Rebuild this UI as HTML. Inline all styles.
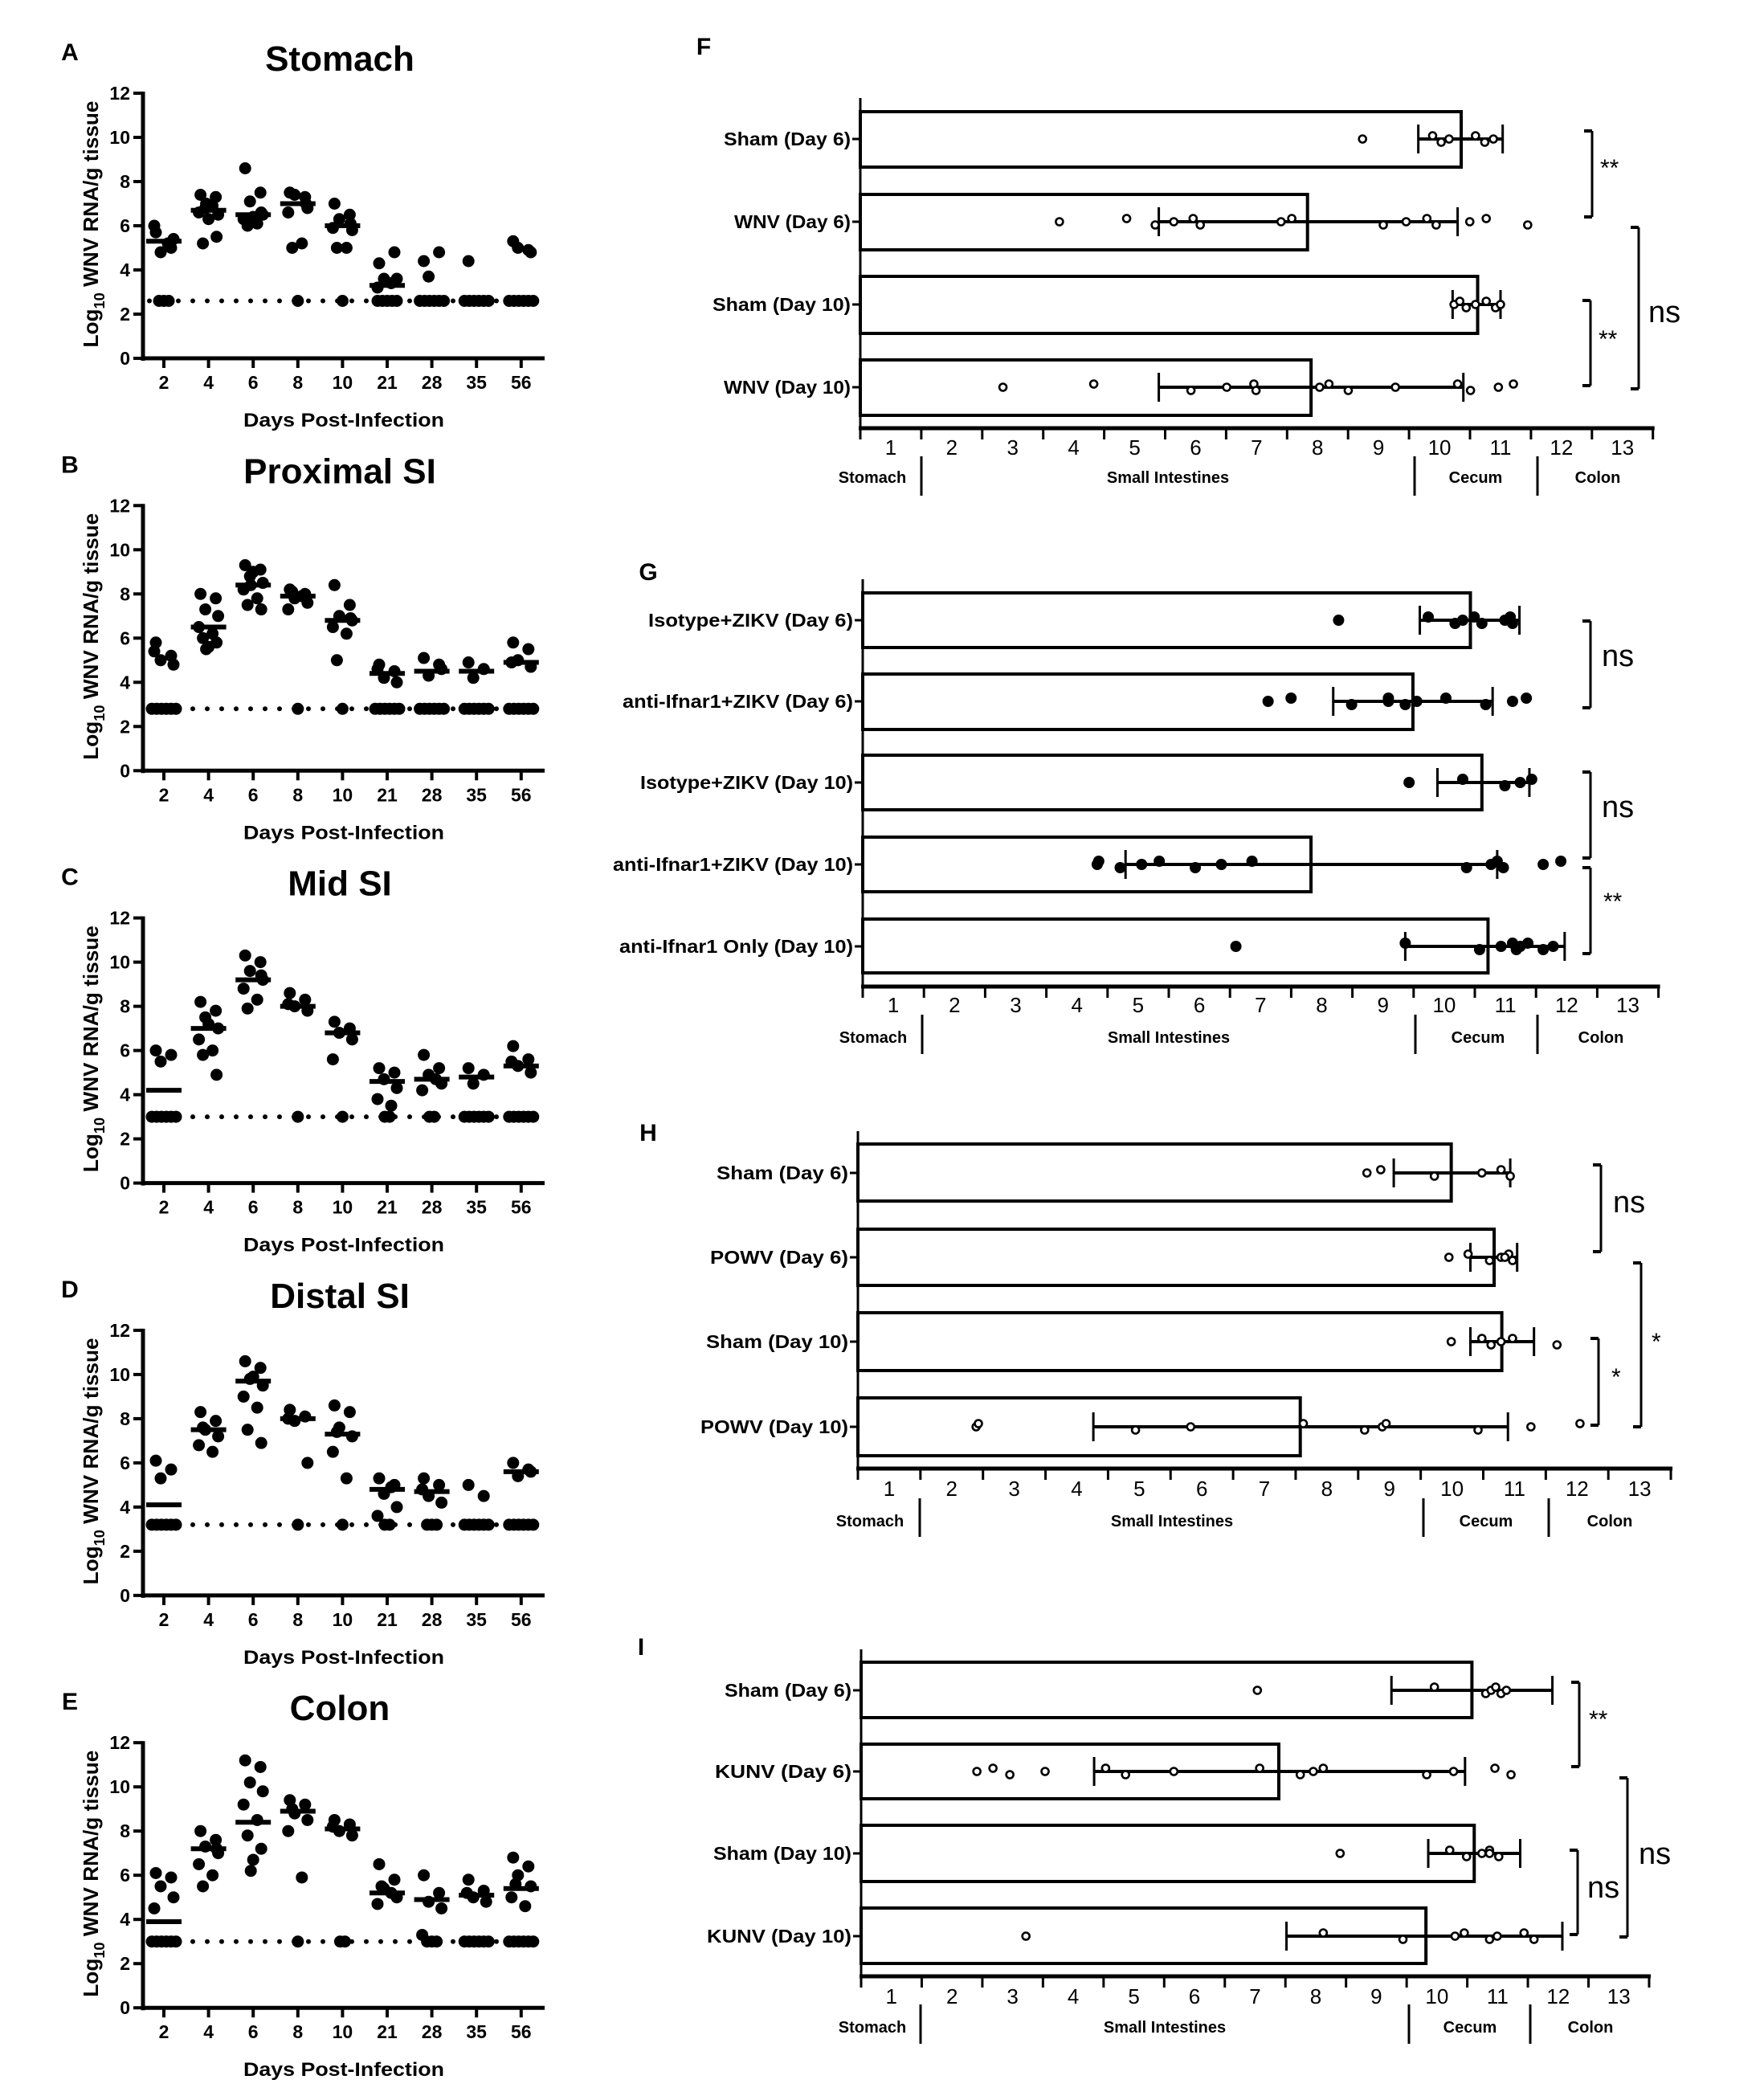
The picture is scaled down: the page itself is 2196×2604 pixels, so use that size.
<!DOCTYPE html>
<html><head><meta charset="utf-8">
<style>
html,body{margin:0;padding:0;background:#fff;}
svg{display:block;}
text{font-family:"Liberation Sans",sans-serif;fill:#000;}
</style></head>
<body>
<svg id="s" width="2196" height="2604" viewBox="0 0 2196 2604" xmlns="http://www.w3.org/2000/svg"></svg>
<script>
var S=document.getElementById('s');var out='';
function L(x1,y1,x2,y2,w){out+='<line x1="'+x1+'" y1="'+y1+'" x2="'+x2+'" y2="'+y2+'" stroke="#000" stroke-width="'+(w||3)+'"/>';}
function T(x,y,t,size,opt){opt=opt||{};out+='<text x="'+x+'" y="'+y+'" font-size="'+size+'" font-weight="'+(opt.w||'bold')+'" text-anchor="'+(opt.a||'middle')+'"'+(opt.len?' textLength="'+opt.len+'" lengthAdjust="spacingAndGlyphs"':'')+(opt.tr?' transform="'+opt.tr+'"':'')+'>'+t+'</text>';}
function C(x,y,r,fill,sw){out+='<circle cx="'+x+'" cy="'+y+'" r="'+r+'" fill="'+fill+'" stroke="#000" stroke-width="'+(sw||0)+'"/>';}

var titles=['Stomach','Proximal SI','Mid SI','Distal SI','Colon'];
var letters=['A','B','C','D','E'];
var lods=[2.6,2.8,3.0,3.2,3.0];
var days=['2','4','6','8','10','21','28','35','56'];
var data=[
[[5.3,[5.7,5.0,4.8,5.4,6.0,5.2],3],[6.7,[7.4,7.3,6.8,6.5,6.6,6.9,5.2,5.5,6.3,7.0],0],[6.5,[8.6,7.5,7.1,6.5,6.3,6.1,6.0,6.6,6.4],0],[7.0,[7.5,7.3,7.4,6.8,6.6,5.2,5.0,7.0],1],[6.0,[7.0,6.5,6.3,5.8,5.9,5.0,5.0,6.1],1],[3.3,[4.3,4.8,3.6,3.6,3.2,3.4],5],[null,[4.4,4.8,3.7],6],[null,[4.4],6],[null,[5.3,4.9,5.0,4.8],6]],
[[null,[5.8,5.2,5.0,4.8,5.4],6],[6.5,[8.0,7.8,7.3,7.0,6.5,6.2,6.0,5.8,5.6,5.5],0],[8.4,[9.3,9.1,8.8,8.5,8.2,7.8,7.5,7.3,9.0,8.4],0],[7.9,[8.2,8.0,7.8,7.6,7.3,7.9,8.1],1],[6.8,[8.4,7.5,7.0,6.8,6.5,6.2,5.0,6.9],1],[4.4,[4.8,4.5,4.2,4.0,4.6],6],[4.5,[5.1,4.8,4.3,4.6],6],[4.5,[4.9,4.6,4.2],6],[4.9,[5.8,5.5,5.0,4.7,4.9],6]],
[[4.2,[6.0,5.8,5.5],6],[7.0,[8.2,7.8,7.5,7.0,6.5,6.0,5.8,4.9,7.2],0],[9.2,[10.3,10.0,9.6,9.2,8.8,8.3,7.9,9.4],0],[8.0,[8.6,8.3,8.0,7.8,8.1],1],[6.8,[7.3,7.0,6.8,6.5,5.6],1],[4.6,[5.2,5.0,4.7,4.3,3.8,3.5],2],[4.7,[5.8,5.2,4.9,4.5,4.2,4.7],2],[4.8,[5.2,4.9,4.5],6],[5.3,[6.2,5.6,5.3,5.0,5.5],6]],
[[4.1,[6.1,5.7,5.3],6],[7.5,[8.3,7.9,7.5,7.2,6.8,6.5,7.6],0],[9.7,[10.6,10.3,9.8,9.5,9.0,8.5,7.5,6.9,9.9],0],[8.0,[8.4,8.1,7.9,6.0,8.0],1],[7.3,[8.6,8.3,7.6,7.2,6.5,5.3,7.4],1],[4.8,[5.3,5.0,4.6,4.0,3.6,4.9],2],[4.7,[5.3,5.0,4.5,4.2,4.8],3],[null,[5.0,4.5],6],[5.6,[6.0,5.7,5.4,5.6],6]],
[[3.9,[6.1,5.9,5.5,5.0,4.5],6],[7.2,[8.0,7.6,7.3,7.0,6.5,6.0,5.5,7.2],0],[8.4,[11.2,10.9,10.2,9.8,9.2,8.5,7.8,7.2,6.7,6.2],0],[8.9,[9.4,9.2,8.8,8.5,8.0,5.9,9.0],1],[8.1,[8.5,8.3,8.0,7.8,8.2],2],[5.2,[6.5,5.8,5.4,5.0,4.7,5.2,5.5],0],[4.9,[6.0,5.2,4.8,4.5,3.3],3],[5.1,[5.8,5.3,5.0,4.8,5.2],6],[5.4,[6.8,6.4,6.0,5.5,5.0,4.6,5.6],6]]
];
var jit=[-10,9,-4,12,-12,5,-7,10,0,-3,7];
for(var p=0;p<5;p++){
  var off=p*513.3, y0=446+off, u=27.5, ax=178;
  function Y(v){return y0-v*u;}
  T(87,75+off,letters[p],30);
  T(423,88+off,titles[p],44);
  L(ax,Y(12)-2,ax,y0+3,5);
  L(ax-2,y0,678,y0,5);
  for(var k=0;k<=12;k+=2){L(ax-12,Y(k),ax,Y(k),4);T(ax-16,Y(k)+8,k,23,{a:'end'});}
  var yl=y0-167;
  out+='<text x="0" y="0" font-size="26" font-weight="bold" text-anchor="middle" textLength="307" lengthAdjust="spacingAndGlyphs" transform="translate(122,'+yl+') rotate(-90)">Log<tspan font-size="18" dy="8">10</tspan><tspan dy="-8"> WNV RNA/g tissue</tspan></text>';
  for(var d=0;d<9;d++){var dx=204+55.6*d;L(dx,y0,dx,y0+12,4);T(dx,y0+38,days[d],23);}
  T(428,y0+85,'Days Post-Infection',24,{len:250});
  for(var x=186;x<672;x+=18){C(x,Y(lods[p]),3,'#000');}
  for(var d=0;d<9;d++){
    var dx=204+55.6*d, g=data[p][d];
    var pts=g[1];
    for(var i=0;i<pts.length;i++){C(dx+jit[i%jit.length],Y(pts[i]),7.5,'#000');}
    var n=g[2];
    for(var i=0;i<n;i++){C(dx+(i-(n-1)/2)*6,Y(lods[p]),7.5,'#000');}
    if(g[0]!==null){L(dx-22,Y(g[0]),dx+22,Y(g[0]),6);}
  }
}

function barPanel(P){
  var X=function(zx){return P.ox+zx*P.fx;};
  T(P.let[1],P.let[2],P.let[0],30);
  L(P.ax,P.top,P.ax,P.axisY,3);
  L(P.ax-2,P.axisY,P.ax+13*P.tu+2,P.axisY,5);
  for(var i=0;i<=13;i++){var tx=P.ax+i*P.tu;L(tx,P.axisY,tx,P.axisY+14,3);if(i>0)T(tx-P.tu/2,P.tlY,i,26,{w:'normal'});}
  var secs=[['Stomach',P.secX[0]],['Small Intestines',P.secX[1]],['Cecum',P.secX[2]],['Colon',P.secX[3]]];
  for(var i=0;i<4;i++)T(secs[i][1],P.secY,secs[i][0],20);
  for(var i=0;i<3;i++)L(P.sep[i],P.sepY[0],P.sep[i],P.sepY[1],3);
  P.rows.forEach(function(r){
    var rx=X(r.right);
    out+='<rect x="'+P.ax+'" y="'+r.t+'" width="'+(rx-P.ax)+'" height="'+(r.b-r.t)+'" fill="#fff" stroke="#000" stroke-width="4"/>';
    L(P.ax-10,r.cy,P.ax,r.cy,3);
    T(P.ax-12,r.cy+8,r.label,23,{a:'end',len:r.len});
    var e1=X(r.e[0]),e2=X(r.e[1]);
    L(e1,r.cy,e2,r.cy,4);L(e1,r.cy-18,e1,r.cy+18,3);L(e2,r.cy-18,e2,r.cy+18,3);
    r.d.forEach(function(zx,j){var dy=(j%3==1)?-4:(j%3==2?4:0);
      if(P.filled)C(X(zx),r.cy+dy,7,'#000');else C(X(zx),r.cy+dy,4.5,'#fff',2.6);});
  });
  P.br.forEach(function(b){L(b.x,b.y1,b.x,b.y2,3);L(b.x-10,b.y1,b.x,b.y1,4);L(b.x-10,b.y2,b.x,b.y2,4);
    if(b.t=='ns')T(b.tx,b.ty+12,'ns',38,{w:'normal',a:'start'});else T(b.tx,b.ty+14,b.t,30,{w:'normal',a:'start'});});
}
barPanel({ox:800,fx:0.89,let:['F',876,68],ax:1071,tu:75.9,top:122,axisY:533,tlY:566,secY:601,secX:[1086,1454,1837,1989],sep:[1147,1761,1914],sepY:[568,617],filled:false,
rows:[
{label:'Sham (Day 6)',cy:173,t:139,b:208,right:1145,e:[1085,1203],d:[1007,1105,1117,1128,1165,1178,1190],len:158},
{label:'WNV (Day 6)',cy:276,t:242,b:311,right:930,e:[722,1140],d:[583,677,717,743,770,780,893,908,1036,1068,1097,1110,1157,1180,1238],len:145},
{label:'Sham (Day 10)',cy:379,t:344,b:415,right:1168,e:[1133,1200],d:[1135,1143,1152,1165,1180,1193,1200],len:172},
{label:'WNV (Day 10)',cy:482,t:448,b:517,right:935,e:[722,1148],d:[504,631,767,817,855,858,947,960,987,1053,1140,1158,1197,1218],len:158}],
br:[{x:1982,y1:163,y2:270,t:'**',tx:1992,ty:205},{x:2040,y1:283,y2:484,t:'ns',tx:2052,ty:389},{x:1980,y1:374,y2:480,t:'**',tx:1990,ty:418}]});
barPanel({ox:700,fx:0.954,let:['G',807,722],ax:1074,tu:76.2,top:721,axisY:1228,tlY:1260,secY:1298,secX:[1087,1455,1840,1993],sep:[1148,1762,1914],sepY:[1263,1312],filled:true,
rows:[
{label:'Isotype+ZIKV (Day 6)',cy:772,t:738,b:806,right:1185,e:[1119,1249],d:[1013,1130,1165,1175,1190,1200,1230,1237,1240],len:255},
{label:'anti-Ifnar1+ZIKV (Day 6)',cy:873,t:839,b:908,right:1110,e:[1006,1214],d:[921,951,1030,1078,1078,1100,1115,1153,1205,1240,1258],len:287},
{label:'Isotype+ZIKV (Day 10)',cy:974,t:940,b:1008,right:1200,e:[1142,1262],d:[1105,1175,1230,1250,1265],len:265},
{label:'anti-Ifnar1+ZIKV (Day 10)',cy:1076,t:1042,b:1110,right:977,e:[735,1220],d:[698,700,728,756,779,826,860,900,1180,1212,1220,1228,1280,1303],len:299},
{label:'anti-Ifnar1 Only (Day 10)',cy:1178,t:1144,b:1211,right:1208,e:[1100,1308],d:[879,1100,1197,1225,1240,1245,1250,1260,1280,1293],len:291}],
br:[{x:1980,y1:773,y2:881,t:'ns',tx:1994,ty:817},{x:1980,y1:961,y2:1068,t:'ns',tx:1994,ty:1005},{x:1980,y1:1080,y2:1187,t:'**',tx:1996,ty:1118}]});
barPanel({ox:700,fx:0.954,let:['H',807,1420],ax:1068,tu:77.85,top:1408,axisY:1828,tlY:1862,secY:1900,secX:[1083,1459,1850,2004],sep:[1145,1772,1928],sepY:[1865,1913],filled:false,
rows:[
{label:'Sham (Day 6)',cy:1460,t:1424,b:1495,right:1160,e:[1085,1237],d:[1050,1068,1138,1200,1225,1237],len:164},
{label:'POWV (Day 6)',cy:1565,t:1530,b:1600,right:1216,e:[1185,1246],d:[1157,1182,1210,1225,1235,1240,1230],len:172},
{label:'Sham (Day 10)',cy:1670,t:1634,b:1706,right:1226,e:[1185,1268],d:[1160,1200,1212,1225,1240,1298],len:177},
{label:'POWV (Day 10)',cy:1776,t:1740,b:1812,right:963,e:[693,1234],d:[540,543,748,820,967,1047,1070,1075,1195,1264,1328],len:184}],
br:[{x:1993,y1:1450,y2:1558,t:'ns',tx:2008,ty:1497},{x:2043,y1:1572,y2:1776,t:'*',tx:2056,ty:1666},{x:1990,y1:1666,y2:1774,t:'*',tx:2006,ty:1710}]});
barPanel({ox:700,fx:0.954,let:['I',798,2060],ax:1072,tu:75.46,top:2053,axisY:2460,tlY:2494,secY:2530,secX:[1086,1450,1830,1980],sep:[1146,1754,1905],sepY:[2495,2544],filled:false,
rows:[
{label:'Sham (Day 6)',cy:2104,t:2069,b:2138,right:1187,e:[1082,1292],d:[907,1138,1205,1212,1218,1225,1232],len:158},
{label:'KUNV (Day 6)',cy:2205,t:2171,b:2239,right:935,e:[694,1178],d:[541,562,584,630,709,735,798,910,963,980,993,1128,1163,1217,1238],len:170},
{label:'Sham (Day 10)',cy:2307,t:2272,b:2342,right:1190,e:[1130,1250],d:[1015,1158,1180,1200,1210,1222,1210],len:172},
{label:'KUNV (Day 10)',cy:2410,t:2375,b:2444,right:1127,e:[945,1305],d:[605,993,1097,1165,1177,1210,1220,1255,1268],len:180}],
br:[{x:1966,y1:2094,y2:2199,t:'**',tx:1978,ty:2136},{x:2026,y1:2213,y2:2411,t:'ns',tx:2040,ty:2308},{x:1964,y1:2303,y2:2408,t:'ns',tx:1976,ty:2350}]});
S.innerHTML=out;
</script>
</body></html>
